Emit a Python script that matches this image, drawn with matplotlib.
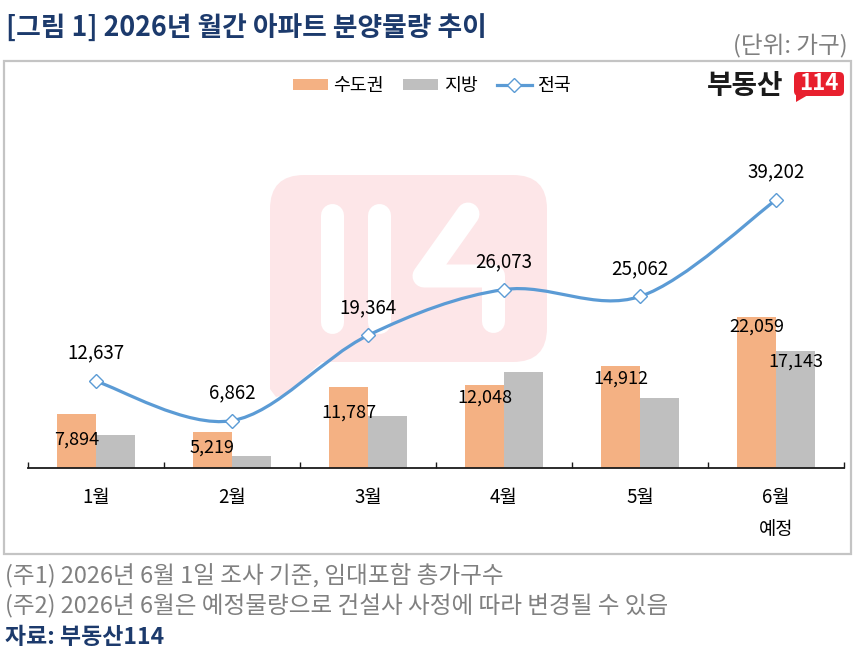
import matplotlib
matplotlib.use("Agg")
import matplotlib.pyplot as plt
from matplotlib.patches import FancyBboxPatch, Polygon, Rectangle, Patch
from matplotlib.lines import Line2D
from matplotlib.path import Path
from matplotlib.patches import PathPatch
import numpy as np

plt.rcParams['font.family'] = ['Noto Sans CJK KR', 'DejaVu Sans']

# ---------------- data ----------------
months = ["1월", "2월", "3월", "4월", "5월", "6월\n예정"]
capital = [7894, 5219, 11787, 12048, 14912, 22059]      # 수도권
local = [4743, 1643, 7577, 14025, 10150, 17143]         # 지방
national = [12637, 6862, 19364, 26073, 25062, 39202]    # 전국
series_names = ["수도권", "지방", "전국"]

title = "[그림 1] 2026년 월간 아파트 분양물량 추이"
unit = "(단위: 가구)"
note1 = "(주1) 2026년 6월 1일 조사 기준, 임대포함 총가구수"
note2 = "(주2) 2026년 6월은 예정물량으로 건설사 사정에 따라 변경될 수 있음"
source = "자료: 부동산114"

# ---------------- style ----------------
C_CAP = "#F4B183"
C_LOC = "#BFBFBF"
C_LINE = "#5B9BD5"
C_NAVY = "#1C3A6C"
C_GRAY = "#808080"
C_PINK = "#FDE6E8"
cap_label_drop_px = [26, 16, 26, 12, 13, 10]
loc_label_drop_px = 11

W, H = 859, 654
fig = plt.figure(figsize=(W / 100, H / 100), dpi=100)

# background axes in pixel coordinates
bg = fig.add_axes([0, 0, 1, 1])
bg.set_xlim(0, W)
bg.set_ylim(H, 0)
bg.axis("off")
bg.set_zorder(0)

def pt(px):
    return px * 0.72

# frame
bg.add_patch(Rectangle((4, 60.5), 847, 493.5, fill=False, ec="#C4C4C4", lw=pt(2.2)))

# watermark
bg.add_patch(FancyBboxPatch((270, 175), 277, 187, boxstyle="round,pad=0,rounding_size=34",
                            fc=C_PINK, ec="none"))
bg.add_patch(Polygon([(270, 330), (270, 389), (276, 397), (284, 395), (322, 362), (322, 330)],
                     closed=True, fc=C_PINK, ec="none"))
wm_lw = pt(23)
for xs, ys in [([331.5, 331.5], [214.5, 321.5]),
               ([378.5, 378.5], [214.5, 321.5]),
               ([468, 424, 493.5, 493.5], [214, 276, 276, 321.5])]:
    bg.add_line(Line2D(xs, ys, color="white", lw=wm_lw, solid_capstyle="round",
                       solid_joinstyle="round"))

# logo
bg.text(745, 86, "부동산", fontsize=20, fontweight="bold", color="#1a1a1a",
        ha="center", va="center")
bg.add_patch(FancyBboxPatch((794, 72), 50, 24, boxstyle="round,pad=0,rounding_size=5",
                            fc="#E8202E", ec="none"))
bg.add_patch(Polygon([(796, 92), (796, 102), (808, 95)], closed=True, fc="#E8202E", ec="none"))
bg.text(819, 84, "114", fontsize=16, fontweight="bold", color="white",
        ha="center", va="center")

# texts
bg.text(6, 29, title, fontsize=19.3, fontweight="bold", color=C_NAVY, ha="left", va="center")
bg.text(848, 46, unit, fontsize=17, color=C_GRAY, ha="right", va="center")
bg.text(5, 575, note1, fontsize=17, color=C_GRAY, ha="left", va="center")
bg.text(5, 606, note2, fontsize=17, color=C_GRAY, ha="left", va="center")
bg.text(5, 637, source, fontsize=16.5, fontweight="bold", color=C_NAVY, ha="left", va="center")

# ---------------- main axes ----------------
left_px, right_px, base_px = 28, 844, 467.5
ymax = 50000
top_px = base_px - ymax * 0.006824
ax = fig.add_axes([left_px / W, 1 - base_px / H, (right_px - left_px) / W,
                   (base_px - top_px) / H])
ax.set_zorder(1)
ax.patch.set_visible(False)
ax.set_xlim(-0.5, len(months) - 0.5)
ax.set_ylim(0, ymax)

x = np.arange(len(months))
bw = 0.287
ax.bar(x - bw / 2, capital, width=bw, color=C_CAP, zorder=2)
ax.bar(x + bw / 2, local, width=bw, color=C_LOC, zorder=2)

# smoothed line (Bezier through points, Excel-style)
pts = np.column_stack([x, national]).astype(float)
verts = [tuple(pts[0])]
codes = [Path.MOVETO]
n = len(pts)
for i in range(n - 1):
    p0 = pts[i - 1] if i > 0 else pts[i]
    p1, p2 = pts[i], pts[i + 1]
    p3 = pts[i + 2] if i + 2 < n else pts[i + 1]
    c1 = p1 + (p2 - p0) / 6.0
    c2 = p2 - (p3 - p1) / 6.0
    verts += [tuple(c1), tuple(c2), tuple(p2)]
    codes += [Path.CURVE4] * 3
ax.add_patch(PathPatch(Path(verts, codes), fill=False, ec=C_LINE, lw=2.3, zorder=3,
                       capstyle="round"))
ax.plot(x, national, linestyle="none", marker="D", ms=7.5, mfc="white", mec=C_LINE,
        mew=1.0, zorder=4)

for xi, v in zip(x, national):
    ax.annotate(f"{v:,}", (xi, v), xytext=(0, pt(28)), textcoords="offset points",
                ha="center", va="center", fontsize=13.5, color="black", zorder=5)
for xi, v, d in zip(x, capital, cap_label_drop_px):
    ax.annotate(f"{v:,}", (xi - bw / 2, v), xytext=(0, -pt(d)), textcoords="offset points",
                ha="center", va="center", fontsize=13, color="black", zorder=5)
ax.annotate(f"{local[-1]:,}", (x[-1] + bw / 2, local[-1]), xytext=(0, -pt(loc_label_drop_px)),
            textcoords="offset points", ha="center", va="center", fontsize=13,
            color="black", zorder=5)

# axis styling
for s in ["top", "left", "right"]:
    ax.spines[s].set_visible(False)
ax.spines["bottom"].set_color("#1a1a1a")
ax.spines["bottom"].set_linewidth(1.3)
ax.set_yticks([])
ax.set_xticks(np.arange(-0.5, len(months), 1.0))
ax.set_xticklabels([])
ax.tick_params(axis="x", which="major", direction="in", length=pt(6), width=1.0,
               color="#1a1a1a")
ax.set_xticks(x, minor=True)
ax.set_xticklabels(months, minor=True, fontsize=13.5, linespacing=1.68)
ax.tick_params(axis="x", which="minor", length=0, pad=pt(20))

# legend
handles = [Patch(fc=C_CAP, ec="none"), Patch(fc=C_LOC, ec="none"),
           Line2D([0], [0], color=C_LINE, lw=2.3, marker="D", ms=7, mfc="white",
                  mec=C_LINE, mew=1.0)]
fig.legend(handles, series_names, loc="center", bbox_to_anchor=(432 / W, 1 - 86 / H),
           ncol=3, frameon=False, fontsize=13.2, handlelength=1.9, handleheight=0.55,
           handletextpad=0.3, columnspacing=1.05)

fig.savefig("out.png", dpi=100)
